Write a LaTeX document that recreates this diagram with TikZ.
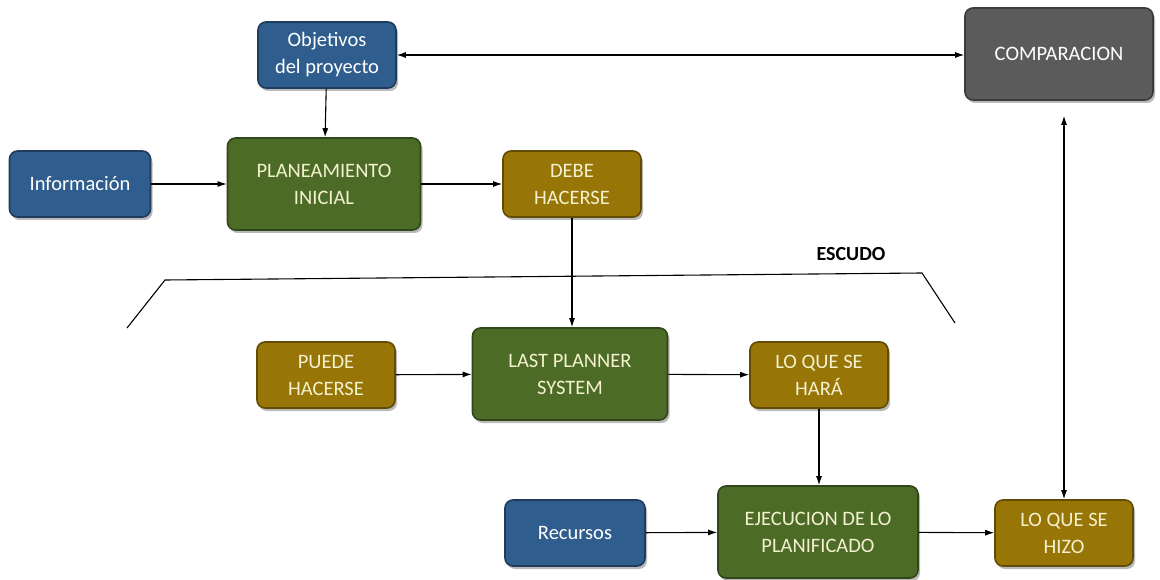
\documentclass[tikz,border=0pt]{standalone}
\usepackage{fontspec}
\setmainfont{Carlito}
\usetikzlibrary{arrows.meta,shadows,calc}
\definecolor{bluebox}{HTML}{2F5D8E}
\definecolor{greenbox}{HTML}{4B6B26}
\definecolor{goldbox}{HTML}{977507}
\definecolor{graybox}{HTML}{5B5B5B}
\definecolor{paletext}{HTML}{F4F1CF}
\begin{document}
\begin{tikzpicture}[x=1pt,y=-1pt,
  box/.style={rounded corners=8pt, draw=#1!65!black, line width=1.6pt, fill=#1,
    drop shadow={shadow xshift=2pt, shadow yshift=-3pt, opacity=0.45, fill=black!60},
    text=paletext, align=center, font=\fontsize{20.5}{27}\selectfont,
    inner sep=0pt},
  small/.style={minimum width=138pt, minimum height=66pt},
  big/.style={minimum width=193pt, minimum height=92pt},
  conn/.style={-{Latex[length=9pt,width=6pt]}, line width=1.1pt},
  both/.style={{Latex[length=9pt,width=6pt]}-{Latex[length=9pt,width=6pt]}, line width=1.1pt}]
\useasboundingbox (0,0) rectangle (1160,580);
\fill[white] (0,0) rectangle (1160,580);

% top row
\node[box=bluebox, small, text=white] (obj) at (327,55) {Objetivos\\del proyecto};
\node[box=graybox, minimum width=188pt, minimum height=92pt, text=white] (comp) at (1059,54) {COMPARACION};
\node[box=bluebox, small, minimum width=141pt, text=white] (info) at (80,184) {Información};
\node[box=greenbox, big] (plan) at (324,184) {PLANEAMIENTO\\INICIAL};
\node[box=goldbox, small] (debe) at (572,184) {DEBE\\HACERSE};

% shield
\node[font=\bfseries\fontsize{20}{24}\selectfont, anchor=center] (esc) at (851,254) {ESCUDO};
\coordinate (sA) at (127,328);
\coordinate (sB) at (165,280);
\coordinate (sC) at (922,273);
\coordinate (sD) at (955,323);
\draw[line width=1.1pt] (sA) -- (sB) -- (sC) -- (sD);

% middle row
\node[box=goldbox, small] (puede) at (326,375) {PUEDE\\HACERSE};
\node[box=greenbox, big, minimum width=195pt] (lps) at (570,374) {LAST PLANNER\\SYSTEM};
\node[box=goldbox, small] (hara) at (819,375) {LO QUE SE\\HARÁ};

% bottom row
\node[box=bluebox, small, minimum width=140pt, text=white] (rec) at (575,533) {Recursos};
\node[box=greenbox, big, minimum width=200pt] (ejec) at (818,532) {EJECUCION DE LO\\PLANIFICADO};
\node[box=goldbox, small] (hizo) at (1064,533) {LO QUE SE\\HIZO};

% connectors
\draw[both] (obj.east) -- (comp.west |- obj.east);
\draw[conn] (obj) -- (plan);
\draw[conn] (info) -- (plan);
\draw[conn] (plan) -- (debe);
\draw[conn] (debe) -- (lps.north -| debe);
\draw[conn] (puede) -- (lps);
\draw[conn] (lps) -- (hara);
\draw[conn] (hara) -- (ejec.north -| hara);
\draw[conn] (rec) -- (ejec);
\draw[conn] (ejec) -- (hizo);
\draw[both] ($(comp.south -| hizo)+(0,15)$) -- (hizo.north);
\end{tikzpicture}
\end{document}
